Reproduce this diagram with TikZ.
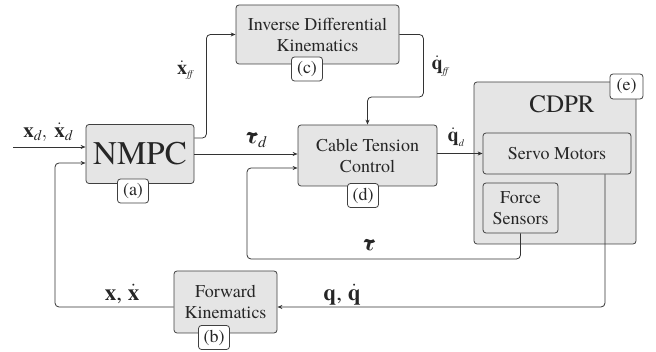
\documentclass[tikz,border=0pt]{standalone}
\usepackage{amsmath}
\usepackage{fontspec}
\setmainfont{TeX Gyre Termes}
\usetikzlibrary{arrows.meta}
\begin{document}
\begin{tikzpicture}[x=1pt,y=-1pt,
  blk/.style={draw=black!75, fill=black!10, rounded corners=3pt, line width=0.8pt, inner sep=0pt, align=center, font=\fontsize{18}{21}\selectfont, text=black!85},
  tag/.style={draw=black!75, fill=white, rounded corners=3pt, line width=0.8pt, minimum width=31pt, minimum height=24pt, inner sep=0pt, font=\fontsize{18}{18}\selectfont, text=black!85},
  con/.style={draw=black!80, line width=0.8pt, rounded corners=4pt},
  arr/.style={con, -{Stealth[length=5pt,width=4pt]}},
  lbl/.style={inner sep=0pt, text=black!85, font=\fontsize{20}{20}\selectfont}
]
\useasboundingbox (0,0) rectangle (656,352);

% blocks
\node[blk, minimum width=108pt, minimum height=59pt, font=\fontsize{33}{33}\selectfont] (nmpc) at (140,154) {NMPC};
\node[tag] (ta) at (133,191) {(a)};
\node[blk, minimum width=163pt, minimum height=59pt] (idk) at (317.5,34.5) {Inverse Differential\\Kinematics};
\node[tag] (tc) at (307,69) {(c)};
\node[blk, minimum width=139pt, minimum height=61pt] (ctc) at (367.5,155.5) {Cable Tension\\Control};
\node[tag] (td) at (363,195.5) {(d)};
\node[blk, minimum width=103pt, minimum height=62pt] (fk) at (225.5,302) {Forward\\Kinematics};
\node[tag] (tb) at (214,337.5) {(b)};

\node[blk, minimum width=162pt, minimum height=162pt] (cdpr) at (555,163) {};
\node[lbl, font=\fontsize{25}{25}\selectfont] (cdprt) at (562,104) {CDPR};
\node[tag, minimum width=33pt, minimum height=25pt] (te) at (626.5,86.5) {(e)};
\node[blk, minimum width=148pt, minimum height=41pt] (sm) at (557,153.5) {Servo Motors};
\node[blk, minimum width=75pt, minimum height=50pt] (fs) at (520.5,208) {Force\\Sensors};

% connectors
\coordinate (in) at (13,147);
\draw[arr] (in) -- (in -| nmpc.west);
\draw[arr] ([yshift=16pt]nmpc.east) -- ++(12,0) |- (idk.west);
\draw[arr] (idk.east) -- ++(24,0) -- ++(0,62.5) -| (ctc.north);
\draw[arr] (nmpc.east) -- (nmpc.east -| ctc.west);
\draw[arr] (sm.west -| ctc.east) -- (sm.west);
\coordinate (tl) at (247,259);
\draw[arr] (fs.south) |- (tl) |- ([yshift=-12.5pt]ctc.west);
\coordinate (sv) at (605,307);
\draw[arr] (sm.south -| sv) |- (fk.east |- sv);
\coordinate (lf) at (55,307);
\draw[arr] (fk.west |- sv) -- (lf) |- ([yshift=-9pt]nmpc.west);

% labels
\node[lbl, font=\fontsize{21}{21}\selectfont] (lxd) at (48,132) {$\textbf{x}_{\textit{d}},\,\dot{\textbf{x}}_{\textit{d}}$};
\node[lbl] (lxff) at (185,70) {$\dot{\textbf{x}}_{\scriptscriptstyle\textit{ff}}$};
\node[lbl] (lqff) at (440,66) {$\dot{\textbf{q}}_{\scriptscriptstyle\textit{ff}}$};
\node[lbl, font=\fontsize{23}{23}\selectfont] (ltaud) at (255,140) {$\textbf{\textit{τ}}_{\textit{d}}$};
\node[lbl] (lqd) at (456,137) {$\dot{\textbf{q}}_{\scriptscriptstyle\textit{d}}$};
\node[lbl, font=\fontsize{23}{23}\selectfont] (ltau) at (368,245) {\textbf{\textit{τ}}};
\node[lbl, font=\fontsize{23}{23}\selectfont] (lqq) at (342,295) {\textbf{q}, $\dot{\textbf{q}}$};
\node[lbl, font=\fontsize{23}{23}\selectfont] (lxx) at (122,294) {\textbf{x}, $\dot{\textbf{x}}$};
\end{tikzpicture}
\end{document}
